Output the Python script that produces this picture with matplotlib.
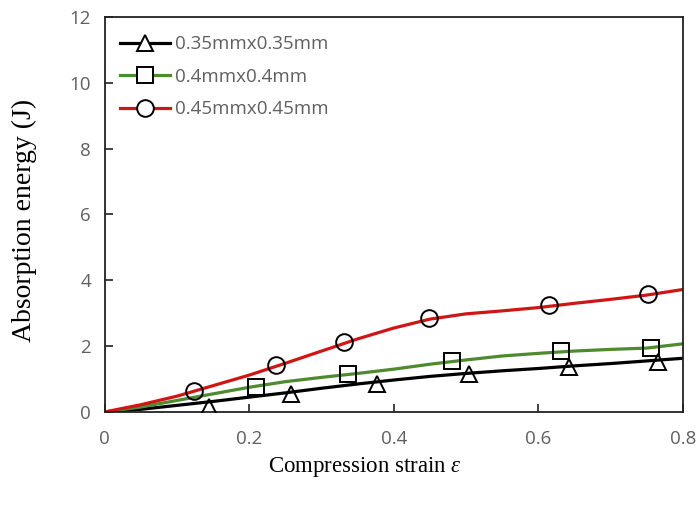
import matplotlib
matplotlib.use("Agg")
import matplotlib.pyplot as plt
from matplotlib.lines import Line2D

plt.rcParams["mathtext.fontset"] = "custom"
plt.rcParams["mathtext.it"] = "Liberation Serif:italic"
plt.rcParams["mathtext.rm"] = "Liberation Serif"

# Simulation curves
strain_line = [0.0, 0.05, 0.1, 0.15, 0.2, 0.25, 0.3, 0.35, 0.4, 0.45, 0.5, 0.55, 0.6, 0.65, 0.7, 0.75, 0.8]
energy_035_line = [0.0, 0.08, 0.2, 0.32, 0.45, 0.58, 0.72, 0.85, 0.97, 1.08, 1.17, 1.25, 1.32, 1.40, 1.47, 1.55, 1.63]
energy_040_line = [0.0, 0.15, 0.35, 0.55, 0.75, 0.92, 1.05, 1.17, 1.30, 1.45, 1.58, 1.70, 1.78, 1.85, 1.90, 1.94, 2.07]
energy_045_line = [0.0, 0.22, 0.48, 0.80, 1.12, 1.48, 1.85, 2.22, 2.55, 2.82, 2.98, 3.07, 3.17, 3.30, 3.42, 3.55, 3.72]

# Experimental points
strain_035_pts = [0.144, 0.258, 0.376, 0.504, 0.642, 0.766]
energy_035_pts = [0.15, 0.54, 0.86, 1.16, 1.37, 1.52]
strain_040_pts = [0.209, 0.336, 0.480, 0.631, 0.756]
energy_040_pts = [0.76, 1.14, 1.55, 1.85, 1.94]
strain_045_pts = [0.123, 0.237, 0.331, 0.448, 0.615, 0.751]
energy_045_pts = [0.64, 1.42, 2.13, 2.84, 3.24, 3.59]

labels = ["0.35mmx0.35mm", "0.4mmx0.4mm", "0.45mmx0.45mm"]
colors = ["#000000", "#4e8a2e", "#d01515"]
markers = ["^", "s", "o"]

fig = plt.figure(figsize=(6.99, 5.13), dpi=100)
ax = fig.add_axes([0.150, 0.197, 0.827, 0.770])

lines = [energy_035_line, energy_040_line, energy_045_line]
pts = [(strain_035_pts, energy_035_pts), (strain_040_pts, energy_040_pts), (strain_045_pts, energy_045_pts)]
for y, c in zip(lines, colors):
    ax.plot(strain_line, y, color=c, lw=2.3, zorder=2)
for (px, py), m in zip(pts, markers):
    ax.plot(px, py, linestyle="none", marker=m, markersize=12, markerfacecolor="none",
            markeredgecolor="black", markeredgewidth=1.4, zorder=3)

ax.set_xlim(0, 0.8)
ax.set_ylim(0, 12)
ax.set_xticks([0, 0.2, 0.4, 0.6, 0.8])
ax.set_xticklabels(["0", "0.2", "0.4", "0.6", "0.8"])
ax.set_yticks([0, 2, 4, 6, 8, 10, 12])
ax.tick_params(direction="in", length=6, width=1.2, colors="#222222", labelcolor="#5f5f5f",
               labelsize=13.5)
ax.tick_params(axis="x", pad=13)
ax.tick_params(axis="y", pad=10)
for lab in ax.get_xticklabels() + ax.get_yticklabels():
    lab.set_family("Open Sans")
for s in ax.spines.values():
    s.set_linewidth(1.3)
    s.set_color("#222222")

ax.set_xlabel("Compression strain $\\mathit{\u03b5}$", family="Liberation Serif", fontsize=16.5)
ax.xaxis.set_label_coords(0.45, -0.108)
ax.set_ylabel("Absorption energy (J)", family="Liberation Serif", fontsize=20)
ax.yaxis.set_label_coords(-0.118, 0.484)

handles = [Line2D([0], [0], color=c, lw=2.3, marker=m, markersize=12, markerfacecolor="white",
                  markeredgecolor="black", markeredgewidth=1.4) for c, m in zip(colors, markers)]
leg = ax.legend(handles, labels, loc="upper left", frameon=False, handlelength=2.67,
                prop={"family": "Open Sans", "size": 13.5}, labelspacing=0.78,
                bbox_to_anchor=(0.013, 0.973), borderaxespad=0, handletextpad=0.27)
for t in leg.get_texts():
    t.set_color("#606060")

fig.savefig("out.png", dpi=100)
